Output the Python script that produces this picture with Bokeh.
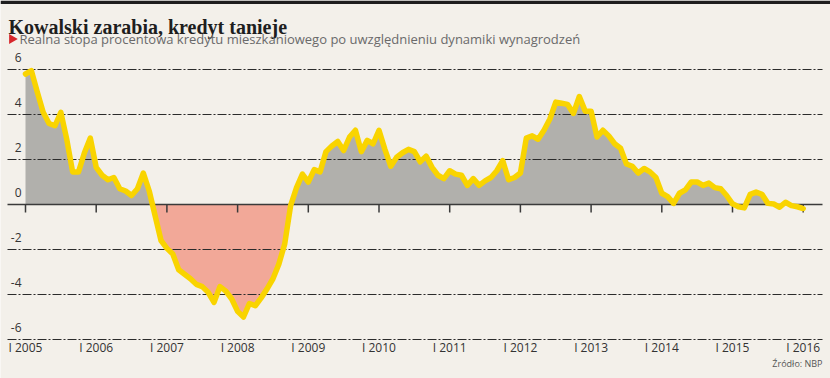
import numpy as np
from bokeh.plotting import figure
from bokeh.models import Range1d, ColumnDataSource
from bokeh.core.properties import value
from bokeh.embed import file_html
from bokeh.resources import INLINE

# ---------------- data ----------------
title_text = "Kowalski zarabia, kredyt tanieje"
subtitle_text = "Realna stopa procentowa kredytu mieszkaniowego po uwzględnieniu dynamiki wynagrodzeń"
source_text = "Źródło: NBP"

start_year = 2005  # monthly series starting January 2005
rate_2005 = [5.8, 5.95, 5.0, 4.1, 3.6, 3.5, 4.1, 2.9, 1.45, 1.45, 2.3, 2.95]
rate_2006 = [1.65, 1.3, 1.1, 1.2, 0.7, 0.6, 0.4, 0.7, 1.4, 0.6, -0.5, -1.6]
rate_2007 = [-1.95, -2.2, -2.9, -3.1, -3.3, -3.55, -3.65, -3.9, -4.35, -3.65, -3.85, -4.2]
rate_2008 = [-4.75, -5.0, -4.4, -4.5, -4.15, -3.75, -3.3, -2.65, -1.75, -0.05, 0.75, 1.35]
rate_2009 = [1.0, 1.55, 1.45, 2.35, 2.6, 2.8, 2.4, 3.0, 3.3, 2.35, 2.85, 2.7]
rate_2010 = [3.3, 2.45, 1.7, 2.1, 2.3, 2.45, 2.35, 1.9, 2.15, 1.65, 1.3, 1.15]
rate_2011 = [1.5, 1.35, 1.3, 0.85, 1.15, 0.85, 1.05, 1.2, 1.5, 1.95, 1.1, 1.2]
rate_2012 = [1.4, 2.95, 3.05, 2.9, 3.3, 3.8, 4.55, 4.5, 4.45, 4.05, 4.8, 4.15]
rate_2013 = [4.15, 3.0, 3.3, 3.05, 2.7, 2.5, 1.8, 1.7, 1.4, 1.6, 1.45, 1.2]
rate_2014 = [0.5, 0.35, 0.05, 0.5, 0.65, 1.0, 1.0, 0.85, 0.95, 0.75, 0.7, 0.4]
rate_2015 = [0.03, -0.1, -0.15, 0.45, 0.55, 0.45, 0.05, 0.02, -0.12, 0.1, -0.05, -0.1]
rate_2016 = [-0.18]

y_ticks = [6, 4, 2, 0, -2, -4, -6]
x_tick_years = list(range(2005, 2017))
x_tick_labels = ["I %d" % y for y in x_tick_years]

# ---------------- layout / style ----------------
W, H = 830, 378
PX_PER_YEAR = 70.7
PX_PER_UNIT = 22.5
X0_PX = 25.0     # pixel of January 2005
Y0_PX = 204.0    # pixel (from top) of value 0

x_start = start_year - X0_PX / PX_PER_YEAR
x_end = x_start + W / PX_PER_YEAR
y_end = Y0_PX / PX_PER_UNIT
y_start = y_end - H / PX_PER_UNIT

def px_x(px):
    return x_start + px / PX_PER_YEAR

def px_y(py):
    return y_end - py / PX_PER_UNIT

BG = "#f3f0ea"
GREY_FILL = "#b1b0ac"
RED_FILL = "#f2a898"
YELLOW = "#f9d400"
DARK = "#2b2b2b"

rate = np.array(rate_2005 + rate_2006 + rate_2007 + rate_2008 + rate_2009 + rate_2010 +
                rate_2011 + rate_2012 + rate_2013 + rate_2014 + rate_2015 + rate_2016)
xs = start_year + np.arange(len(rate)) / 12.0

# insert zero crossings so the two fills meet exactly on the axis
fx, fy = [xs[0]], [rate[0]]
for i in range(1, len(rate)):
    a, b = rate[i - 1], rate[i]
    if a * b < 0:
        t = a / (a - b)
        fx.append(xs[i - 1] + t * (xs[i] - xs[i - 1]))
        fy.append(0.0)
    fx.append(xs[i])
    fy.append(b)
fx = np.array(fx)
fy = np.array(fy)

p = figure(width=W, height=H, output_backend="svg", toolbar_location=None,
           x_range=Range1d(x_start, x_end), y_range=Range1d(y_start, y_end),
           x_axis_type=None, y_axis_type=None, min_border=0)
p.background_fill_color = BG
p.border_fill_color = BG
p.outline_line_color = None
p.xgrid.visible = False
p.ygrid.visible = False

# fills
p.varea(x=fx, y1=np.zeros_like(fy), y2=np.maximum(fy, 0), fill_color=GREY_FILL)
p.varea(x=fx, y1=np.zeros_like(fy), y2=np.minimum(fy, 0), fill_color=RED_FILL)

# gridlines (dash-dot) and zero line
gx0, gx1 = px_x(7), px_x(822)
for t in y_ticks:
    if t == 0:
        continue
    p.line([gx0, gx1], [t, t], line_color=DARK, line_width=1, line_dash="9 2 2 2")
p.line([gx0, gx1], [0, 0], line_color="#3a3a3a", line_width=1.5)

# year tick marks below the zero line
tick_len = 8 / PX_PER_UNIT
p.segment(x0=x_tick_years, y0=[0] * len(x_tick_years), x1=x_tick_years,
          y1=[-tick_len] * len(x_tick_years), line_color="#3a3a3a", line_width=1.5)

# the series
p.line(xs, rate, line_color=YELLOW, line_width=5.5, line_join="round", line_cap="round")

# y tick labels (above each gridline, at the left)
ysrc = ColumnDataSource(dict(x=[px_x(21)] * len(y_ticks),
                             y=[t + 12 / PX_PER_UNIT for t in y_ticks],
                             text=[str(t) for t in y_ticks]))
p.text(x="x", y="y", text="text", source=ysrc, text_align="right", text_baseline="middle",
       text_font=value("Open Sans"), text_font_size="12px", text_color="#333333")

# x tick labels
xsrc = ColumnDataSource(dict(x=x_tick_years, y=[px_y(347)] * len(x_tick_years),
                             text=x_tick_labels))
p.text(x="x", y="y", text="text", source=xsrc, text_align="center", text_baseline="middle",
       text_font=value("Open Sans"), text_font_size="12px", text_color="#333333")

# top black bar
p.varea(x=[x_start, x_end], y1=[px_y(3.5)] * 2, y2=[y_end] * 2, fill_color="#1e1e1e")

# title, subtitle, source
p.text(x=[px_x(8)], y=[px_y(26)], text=[title_text], text_align="left",
       text_baseline="alphabetic", text_font=value("Liberation Serif"),
       text_font_style="bold", text_font_size="20px", text_color="#1e1e1e")
p.scatter(x=[px_x(11.5)], y=[px_y(38.5)], marker="triangle", angle=-np.pi / 2, size=10,
          fill_color="#d7262b", line_color=None)
p.text(x=[px_x(19)], y=[px_y(38.5)], text=[subtitle_text], text_align="left",
       text_baseline="middle", text_font=value("Open Sans"),
       text_font_size="13px", text_color="#6a6a6a")
p.text(x=[px_x(822)], y=[px_y(363)], text=[source_text], text_align="right",
       text_baseline="middle", text_font=value("Open Sans"),
       text_font_size="9px", text_color="#555555")

open("out.html", "w").write(file_html(p, INLINE))
